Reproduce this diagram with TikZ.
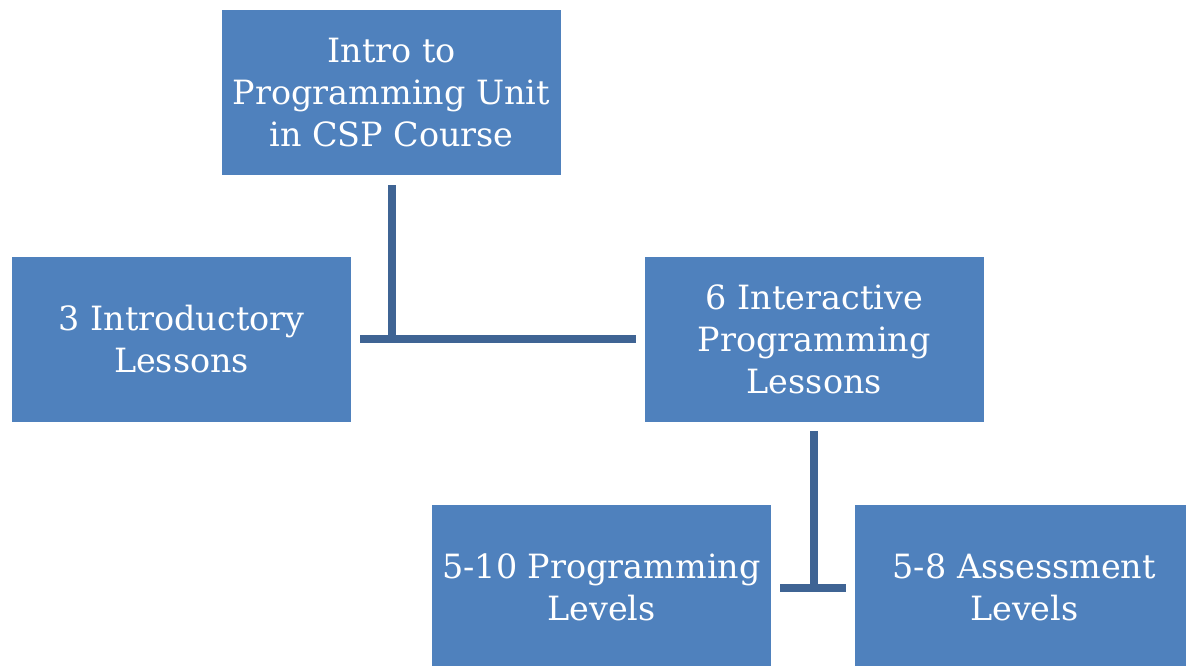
\documentclass[tikz,border=0pt]{standalone}
\usepackage{fontspec}
\setmainfont{DejaVu Serif}
\usetikzlibrary{positioning}
\definecolor{boxblue}{HTML}{4F81BD}
\definecolor{linkblue}{HTML}{3F6494}

\begin{document}
\begin{tikzpicture}[x=0.5pt,y=-0.5pt,
    unit/.style={rectangle,fill=boxblue,text=white,inner sep=0pt,align=center,
      minimum width=169.5pt,minimum height=82.5pt,font=\fontsize{16.7}{21}\selectfont},
    link/.style={draw=linkblue,line width=4pt}]
      \clip (0,0) rectangle (1186,665);
      \node[unit](intro) at (391.5,92.5){Intro to\\Programming Unit\\in CSP Course};
      \node[unit](intro3) at (181.5,339){3 Introductory\\Lessons};
      \node[unit,right=146.5pt of intro3](inter6){6 Interactive\\Programming\\Lessons};
      \node[unit](prog) at (601.5,587.5){5-10 Programming\\Levels};
      \node[unit,right=41.5pt of prog](assess){5-8 Assessment\\Levels};
      \coordinate (j1) at (intro.south |- intro3.east);
      \draw[link] ([yshift=-5pt]intro.south) -- (j1);
      \draw[link] ([xshift=4.5pt]intro3.east) -- ([xshift=-4pt]inter6.west);
      \coordinate (j2) at (inter6.south |- prog.east);
      \draw[link] ([yshift=-4.5pt]inter6.south) -- (j2);
      \draw[link] ([xshift=4.5pt]prog.east) -- ([xshift=-4pt]assess.west);
    \end{tikzpicture}
\end{document}
